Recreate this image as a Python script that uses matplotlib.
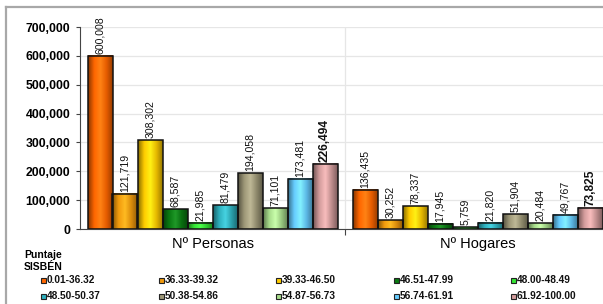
import numpy as np
import matplotlib
matplotlib.use("Agg")
import matplotlib.pyplot as plt
from matplotlib.colors import LinearSegmentedColormap, to_rgb
from matplotlib.patches import Rectangle
from matplotlib.lines import Line2D

plt.rcParams['font.family'] = ['Liberation Sans', 'DejaVu Sans']

groups = ["Nº Personas", "Nº Hogares"]
ranges = ["0.01-36.32", "36.33-39.32", "39.33-46.50", "46.51-47.99", "48.00-48.49",
          "48.50-50.37", "50.38-54.86", "54.87-56.73", "56.74-61.91", "61.92-100.00"]
personas = [600008, 121719, 308302, 68587, 21985, 81479, 194058, 71101, 173481, 226494]
hogares = [136435, 30252, 78337, 17945, 5759, 21820, 51904, 20484, 49767, 73825]
colors = ["#FF6600", "#F29A0C", "#FFCC00", "#0A7A12", "#33E633",
          "#2EB0BE", "#9E9878", "#A8DC8C", "#66CCFF", "#D39C9C"]

W, H = 603, 304
fig = plt.figure(figsize=(W / 100, H / 100), dpi=100)
ax = fig.add_axes([80 / W, 75 / H, 1 - 80 / W, (229 - 27) / H])

bw = 25 / 265
offsets = (np.arange(10) - 4.5) * bw


def grad_bar(x, h, col):
    c = np.array(to_rgb(col))
    cm = LinearSegmentedColormap.from_list("g", [c * 0.55, c, np.minimum(c * 1.08 + 0.08, 1), c * 0.9, c * 0.6])
    ax.imshow(np.linspace(0, 1, 50).reshape(1, -1), cmap=cm, aspect='auto',
              extent=[x - bw / 2, x + bw / 2, 0, h], zorder=2)
    ax.add_patch(Rectangle((x - bw / 2, 0), bw, h, fill=False, edgecolor='#111111', lw=1.1, zorder=3))


for g, vals in enumerate([personas, hogares]):
    for i, v in enumerate(vals):
        x = g + offsets[i]
        grad_bar(x, v, colors[i])
        big = (i == 9)
        ax.text(x, v + 7000, f"{v:,}", rotation=90, ha='center', va='bottom',
                fontsize=8.6 if big else 7.6, fontweight='bold' if big else 'normal',
                color='#111111', clip_on=False, zorder=4)

ax.set_xlim(-0.5, -0.5 + (W - 80) / 265)
ax.set_ylim(0, 700000)
ax.set_yticks(np.arange(0, 700001, 100000))
ax.set_yticklabels([f"{int(t):,}" for t in ax.get_yticks()], fontsize=8.8, fontweight='bold')
ax.set_xticks([0.5])
ax.set_xticklabels([""])
ax.tick_params(axis='y', length=3, color='#444444', pad=4)
ax.tick_params(axis='x', length=4, color='#444444')
ax.grid(axis='y', color='#E6E6E6', lw=0.9, zorder=0)
ax.axvline(0.5, color='#E6E6E6', lw=0.9, zorder=0)
ax.set_axisbelow(True)
for s in ['top', 'right']:
    ax.spines[s].set_visible(False)
ax.spines['left'].set_color('#444444')
ax.spines['bottom'].set_color('#444444')

for g, name in enumerate(groups):
    ax.text(g, -0.075, name, transform=ax.get_xaxis_transform(), ha='center', va='center',
            fontsize=10.5)

# legend
fig.text(24 / W, 1 - 255 / H, "Puntaje", fontsize=7.5, fontweight='bold', va='center')
fig.text(24 / W, 1 - 267 / H, "SISBÉN", fontsize=7.5, fontweight='bold', va='center')
for i, lab in enumerate(ranges):
    px = 41 + (i % 5) * 117.5
    py = 280 + (i // 5) * 16
    fig.add_artist(Rectangle((px / W, 1 - (py + 2.5) / H), 5 / W, 5 / H, facecolor=colors[i],
                             edgecolor='#222222', lw=0.8, transform=fig.transFigure))
    fig.text((px + 6) / W, 1 - py / H, lab, fontsize=7.3, fontweight='bold', va='center',
             color='#111111')

# chart border
fig.add_artist(Line2D([6 / W, 1], [1 - 7 / H, 1 - 7 / H], color='#A8A8A8', lw=1.6))
fig.add_artist(Line2D([6 / W, 6 / W], [0, 1 - 7 / H], color='#A8A8A8', lw=1.6))

fig.savefig("out.png", dpi=100)
